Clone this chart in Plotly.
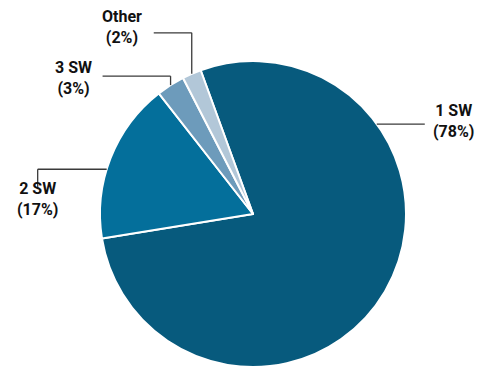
import math
import plotly.graph_objects as go

labels = ["1 SW", "2 SW", "3 SW", "Other"]
values = [78, 17, 3, 2]
colors = ["#075a7d", "#046f9b", "#6d9bbb", "#b2c7d8"]

W, H = 478, 369
cx, cy, R = 253, 214, 153
rotation = -20

fig = go.Figure(go.Pie(
    labels=labels, values=values, sort=False, direction="clockwise",
    rotation=rotation, textinfo="none", hoverinfo="label+percent",
    marker=dict(colors=colors, line=dict(color="white", width=2)),
    domain=dict(x=[(cx - R) / W, (cx + R) / W], y=[1 - (cy + R) / H, 1 - (cy - R) / H]),
    showlegend=False,
))

# leader-line anchor angle (degrees clockwise from 12 o'clock) and elbow layout
total = sum(values)
start = rotation
mids = []
for v in values:
    mids.append(start + v / total * 360 / 2)
    start += v / total * 360

anchor_angles = [54, 287, mids[2], mids[3]]
# (kind, length params)
layouts = [
    ("h", 48),        # horizontal to right
    ("hv", -69, 18),  # horizontal left then down
    ("vh", -9, -68),  # up then left
    ("vh", -41, -38),
]
text_pos = [(453, 121), (37, 199), (73, 78), (122, 27)]

def edge(a):
    r = math.radians(a)
    return cx + R * math.sin(r), cy - R * math.cos(r)

def px(x, y):
    return x / W, 1 - y / H

shapes = []
annotations = []
for lab, v, a, lay, tp in zip(labels, values, anchor_angles, layouts, text_pos):
    x0, y0 = edge(a)
    pts = [(x0, y0)]
    if lay[0] == "h":
        pts.append((x0 + lay[1], y0))
    elif lay[0] == "hv":
        pts.append((x0 + lay[1], y0))
        pts.append((x0 + lay[1], y0 + lay[2]))
    else:
        pts.append((x0, y0 + lay[1]))
        pts.append((x0 + lay[2], y0 + lay[1]))
    for (xa, ya), (xb, yb) in zip(pts[:-1], pts[1:]):
        p0, p1 = px(xa, ya), px(xb, yb)
        shapes.append(dict(type="line", xref="paper", yref="paper",
                           x0=p0[0], y0=p0[1], x1=p1[0], y1=p1[1],
                           line=dict(color="#3a3a3a", width=1.3)))
    tx, ty = px(*tp)
    annotations.append(dict(x=tx, y=ty, xref="paper", yref="paper",
                            text=f"<b>{lab}<br>({round(v / total * 100)}%)</b>",
                            showarrow=False, xanchor="center", yanchor="middle",
                            font=dict(family="Roboto", size=16, color="#111111")))

fig.update_layout(width=W, height=H, margin=dict(l=0, r=0, t=0, b=0),
                  paper_bgcolor="white", plot_bgcolor="white",
                  shapes=shapes, annotations=annotations)
fig.write_html("out.html")
